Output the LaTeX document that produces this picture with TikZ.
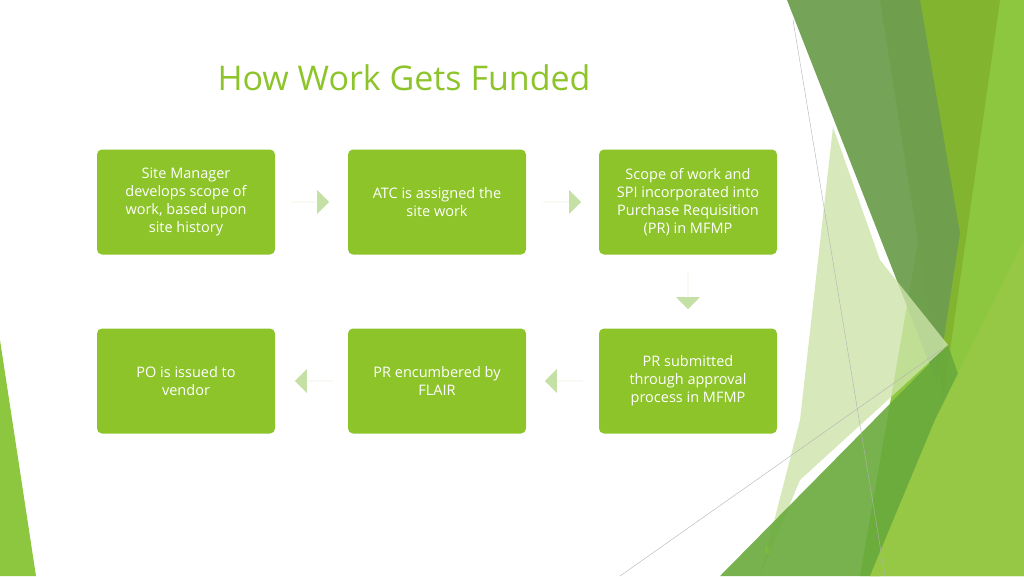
\documentclass[tikz,border=0pt]{standalone}
\usepackage{fontspec}
\setmainfont{Open Sans}
\usetikzlibrary{shapes.arrows}
\definecolor{gr}{RGB}{140,196,42}
\definecolor{pale}{RGB}{197,224,165}
\tikzset{box/.style={fill=gr,rounded corners=5pt,minimum width=178pt,minimum height=105pt,text=white,align=center,font=\fontsize{14.5}{18}\selectfont},
arr/.style={fill=pale,single arrow,single arrow head extend=10pt,minimum height=38pt,minimum width=24pt,inner sep=0pt}}
\begin{document}
\begin{tikzpicture}[x=1pt,y=-1pt]
\useasboundingbox (0,0) rectangle (1024,576);
% decoration
\fill[color={rgb,255:red,141;green,198;blue,63}] (960,0)--(1024,0)--(1024,576)--(860,576)--cycle;
\fill[color={rgb,255:red,130;green,180;blue,48}] (880,0)--(1000,0)--(943,400)--cycle;
\fill[color={rgb,255:red,110;green,158;blue,78},opacity=.95] (787,0)--(920,0)--(960,233)--(937,383)--cycle;
\fill[color={rgb,255:red,205;green,228;blue,170},opacity=.8] (833,127)--(880,260)--(948,345)--(800,480)--(760,576)--(800,420)--cycle;
\fill[color={rgb,255:red,105;green,170;blue,60},opacity=.9] (948,345)--(720,576)--(880,576)--(960,380)--cycle;
\fill[color={rgb,255:red,150;green,200;blue,70}] (1024,240)--(1024,576)--(870,576)--(935,420)--cycle;
\fill[color={rgb,255:red,141;green,198;blue,63}] (0,340)--(0,576)--(36,576)--cycle;
\draw[gray!60,line width=.4pt] (793,20)--(885,576);
\draw[gray!60,line width=.4pt] (620,576)--(948,345);
\node[text=gr,font=\fontsize{9}{10}\selectfont] (pg) at (768,550) {6};
% title
\node[text=gr,font=\fontsize{34}{40}\selectfont,anchor=west] (t) at (214,78) {How Work Gets Funded};
% boxes
\node[box] (b1) at (186,202) {Site Manager\\develops scope of\\work, based upon\\site history};
\node[box] (b2) at (437,202) {ATC is assigned the\\site work};
\node[box] (b3) at (688,202) {Scope of work and\\SPI incorporated into\\Purchase Requisition\\(PR) in MFMP};
\node[box] (b4) at (186,381) {PO is issued to\\vendor};
\node[box] (b5) at (437,381) {PR encumbered by\\FLAIR};
\node[box] (b6) at (688,381) {PR submitted\\through approval\\process in MFMP};
\node[arr] (a1) at (310,202) {};
\node[arr] (a2) at (562,202) {};
\node[arr,shape border rotate=270] (a3) at (688,290) {};
\node[arr,shape border rotate=180] (a4) at (564,381) {};
\node[arr,shape border rotate=180] (a5) at (314,381) {};
\end{tikzpicture}
\end{document}
